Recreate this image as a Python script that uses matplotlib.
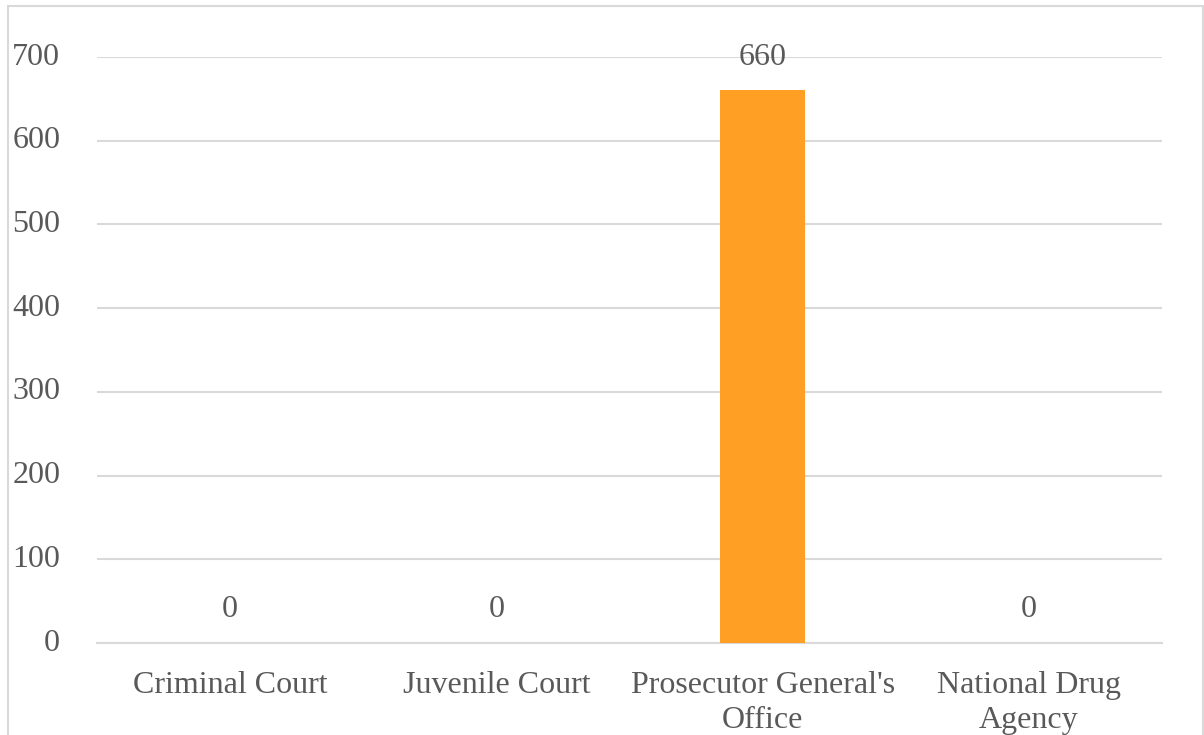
import matplotlib.pyplot as plt
import matplotlib.transforms as mtransforms
from matplotlib.patches import Rectangle

categories = ["Criminal Court", "Juvenile Court", "Prosecutor General's\nOffice", "National Drug\nAgency"]
values = [0, 0, 660, 0]

plt.rcParams['font.family'] = ['Liberation Serif', 'DejaVu Serif']
text_color = '#595959'
grid_color = '#d9d9d9'

W, H = 1204, 735
fig = plt.figure(figsize=(W / 100, H / 100), dpi=100)
ax = fig.add_axes([97 / W, 1 - 643 / H, (1162 - 97) / W, (643 - 57) / H])

x = range(len(categories))
ax.bar(x, values, width=0.32, color='#FFA024', zorder=3)
for xi, v in zip(x, values):
    ax.annotate(str(v), (xi, v), xytext=(0, 24), textcoords='offset points',
                ha='center', va='center', fontsize=23, color=text_color)

ax.set_xlim(-0.5, len(categories) - 0.5)
ax.set_ylim(0, 700)
ax.set_yticks(range(0, 701, 100))
ax.set_xticks(list(x))
ax.set_xticklabels(categories, fontsize=23, color=text_color, linespacing=1.27)
ax.tick_params(axis='y', labelsize=23, labelcolor=text_color, length=0, pad=26.5)
ax.tick_params(axis='x', length=0, pad=20)

# y labels sit a touch above their gridlines
shift = mtransforms.ScaledTranslation(0, 2.5 / 72, fig.dpi_scale_trans)
for lbl in ax.get_yticklabels():
    lbl.set_transform(lbl.get_transform() + shift)

ax.grid(axis='y', color=grid_color, linewidth=1.5, zorder=0)
for s in ['top', 'right', 'left']:
    ax.spines[s].set_visible(False)
ax.spines['bottom'].set_color(grid_color)
ax.spines['bottom'].set_linewidth(1.5)

# chart area border, cut off at the bottom
fig.patches.append(Rectangle((8 / W, -0.05), (1203 - 8) / W, 1 - 6 / H + 0.05,
                             transform=fig.transFigure, fill=False,
                             edgecolor='#d9d9d9', linewidth=1.5))

fig.savefig('out.png', dpi=100)
